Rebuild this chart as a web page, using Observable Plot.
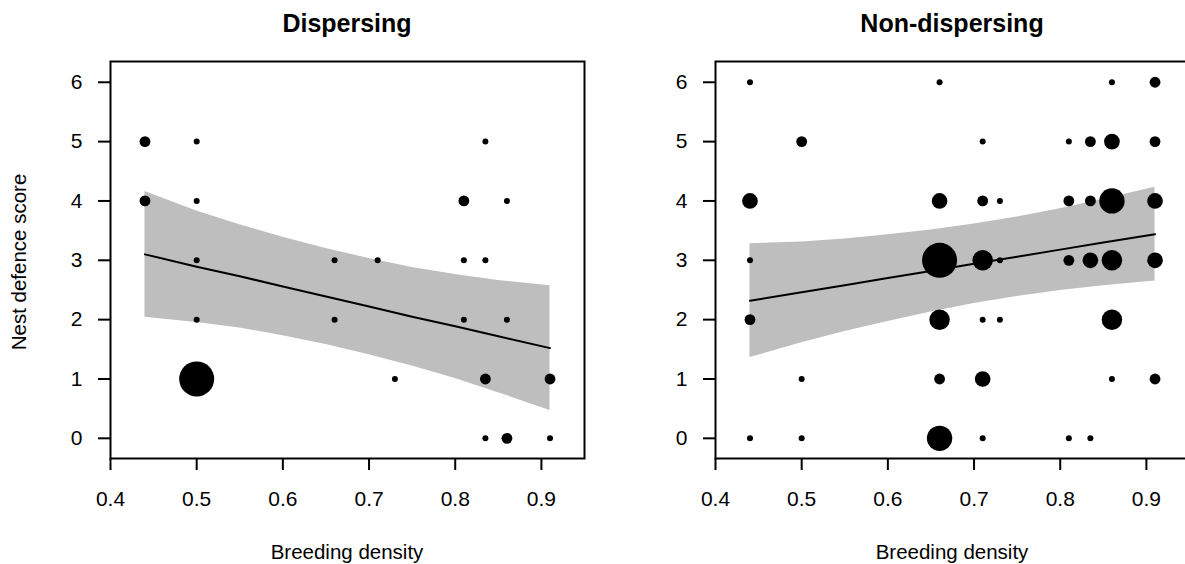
<!DOCTYPE html>
<html>
<head>
<meta charset="utf-8">
<script src="https://cdn.jsdelivr.net/npm/d3@7"></script>
<script src="https://cdn.jsdelivr.net/npm/@observablehq/plot@0.6"></script>
<style>
  html, body { margin: 0; padding: 0; background: #fff; overflow: hidden; }
  #wrap { position: relative; width: 1185px; height: 564px; overflow: hidden; background: #fff;
          font-family: "Liberation Sans", Arial, sans-serif; color: #000; }
  .panel { position: absolute; top: 0; width: 592px; height: 564px; }
  .panel svg { max-width: none !important; display: block; }
  .title { position: absolute; font-weight: bold; font-size: 25px; line-height: 1; white-space: nowrap; transform: translateX(-50%); }
  .xlab { position: absolute; font-size: 20.5px; line-height: 1; white-space: nowrap; transform: translateX(-50%); }
  .ylab { position: absolute; font-size: 20.5px; line-height: 1; white-space: nowrap; transform: translate(-50%, -50%) rotate(-90deg); }
</style>
</head>
<body>
<div id="wrap"></div>
<script>
// ---- data ----
const panelTitles = ["Dispersing", "Non-dispersing"];
const xLabel = "Breeding density";
const yLabel = "Nest defence score";
const xTicks = [0.4, 0.5, 0.6, 0.7, 0.8, 0.9];
const yTicks = [0, 1, 2, 3, 4, 5, 6];

// Dispersing: breeding density, nest defence score, number of birds
const dispX = [0.44, 0.44, 0.5, 0.5, 0.5, 0.5, 0.5, 0.66, 0.66, 0.71, 0.73, 0.81, 0.81, 0.81, 0.835, 0.835, 0.835, 0.835, 0.86, 0.86, 0.86, 0.91, 0.91];
const dispY = [5, 4, 5, 4, 3, 2, 1, 3, 2, 3, 1, 4, 3, 2, 5, 3, 1, 0, 4, 2, 0, 1, 0];
const dispN = [2, 2, 1, 1, 1, 1, 7, 1, 1, 1, 1, 2, 1, 1, 1, 1, 2, 1, 1, 1, 2, 2, 1];

// Non-dispersing
const nonX = [0.44, 0.44, 0.44, 0.44, 0.44,
              0.5, 0.5, 0.5,
              0.66, 0.66, 0.66, 0.66, 0.66, 0.66,
              0.71, 0.71, 0.71, 0.71, 0.71, 0.71,
              0.73, 0.73, 0.73,
              0.81, 0.81, 0.81, 0.81,
              0.835, 0.835, 0.835, 0.835,
              0.86, 0.86, 0.86, 0.86, 0.86, 0.86,
              0.91, 0.91, 0.91, 0.91, 0.91];
const nonY = [6, 4, 3, 2, 0,
              5, 1, 0,
              6, 4, 3, 2, 1, 0,
              5, 4, 3, 2, 1, 0,
              4, 3, 2,
              5, 4, 3, 0,
              5, 4, 3, 0,
              6, 5, 4, 3, 2, 1,
              6, 5, 4, 3, 1];
const nonN = [1, 3, 1, 2, 1,
              2, 1, 1,
              1, 3, 7, 4, 2, 5,
              1, 2, 4, 1, 3, 1,
              1, 1, 1,
              1, 2, 2, 1,
              2, 2, 3, 1,
              1, 3, 5, 4, 4, 1,
              2, 2, 3, 3, 2];

// fitted line and confidence band
const fitX    = [0.44, 0.5, 0.55, 0.6, 0.65, 0.7, 0.75, 0.8, 0.85, 0.91];
const dispFit = [3.10, 2.89, 2.73, 2.56, 2.39, 2.22, 2.05, 1.89, 1.72, 1.52];
const dispLo  = [2.04, 1.95, 1.86, 1.73, 1.58, 1.41, 1.22, 1.01, 0.77, 0.47];
const dispHi  = [4.16, 3.83, 3.60, 3.39, 3.20, 3.03, 2.88, 2.76, 2.66, 2.57];
const nonFit  = [2.32, 2.46, 2.58, 2.70, 2.82, 2.94, 3.06, 3.18, 3.30, 3.44];
const nonLo   = [1.36, 1.61, 1.80, 1.97, 2.13, 2.27, 2.39, 2.49, 2.57, 2.65];
const nonHi   = [3.28, 3.31, 3.36, 3.43, 3.51, 3.61, 3.73, 3.87, 4.03, 4.23];

// ---- build ----
const wrap = document.getElementById("wrap");
const W = 592, H = 564, ML = 110, MR = 8, MT = 61, MB = 106;
const FONT = "'Liberation Sans', Arial, sans-serif";

function makePanel(px, py, pn, fit, lo, hi) {
  const pts = px.map((x, i) => ({x, y: py[i], n: pn[i]}));
  const band = fitX.map((x, i) => ({x, fit: fit[i], lo: lo[i], hi: hi[i]}));
  return Plot.plot({
    width: W, height: H,
    marginLeft: ML, marginRight: MR, marginTop: MT, marginBottom: MB,
    style: {fontFamily: FONT, fontSize: "21px", color: "#000", background: "transparent", overflow: "visible", maxWidth: "none"},
    x: {domain: [0.4, 0.95]},
    y: {domain: [-0.34, 6.35]},
    r: {type: "linear", domain: [1, 7], range: [3, 17.5]},
    marks: [
      Plot.areaY(band, {x: "x", y1: "lo", y2: "hi", fill: "#bebebe"}),
      Plot.dot(pts, {x: "x", y: "y", r: "n", fill: "#000", stroke: "none"}),
      Plot.line(band, {x: "x", y: "fit", stroke: "#000", strokeWidth: 2}),
      Plot.frame({stroke: "#000", strokeWidth: 2}),
      Plot.axisX({ticks: xTicks, tickSize: 12, tickPadding: 21, strokeWidth: 2, label: null,
                  fontSize: 21, fontFamily: FONT, fill: "#000", tickFormat: d3.format(".1f")}),
      Plot.axisY({ticks: yTicks, tickSize: 12, tickPadding: 16, strokeWidth: 2, label: null,
                  fontSize: 21, fontFamily: FONT, fill: "#000", tickFormat: d3.format("d")})
    ]
  });
}

const offsets = [0, 605];
const panels = [
  makePanel(dispX, dispY, dispN, dispFit, dispLo, dispHi),
  makePanel(nonX, nonY, nonN, nonFit, nonLo, nonHi)
];
panels.forEach((svg, i) => {
  const d = document.createElement("div");
  d.className = "panel";
  d.style.left = offsets[i] + "px";
  d.appendChild(svg);
  wrap.appendChild(d);
  const cx = offsets[i] + ML + (W - ML - MR) / 2;
  const t = document.createElement("div");
  t.className = "title";
  t.style.left = cx + "px";
  t.style.top = "11px";
  t.textContent = panelTitles[i];
  wrap.appendChild(t);
  const xl = document.createElement("div");
  xl.className = "xlab";
  xl.style.left = cx + "px";
  xl.style.top = "542px";
  xl.textContent = xLabel;
  wrap.appendChild(xl);
});
const yl = document.createElement("div");
yl.className = "ylab";
yl.style.left = "19px";
yl.style.top = "262px";
yl.textContent = yLabel;
wrap.appendChild(yl);
</script>
</body>
</html>
